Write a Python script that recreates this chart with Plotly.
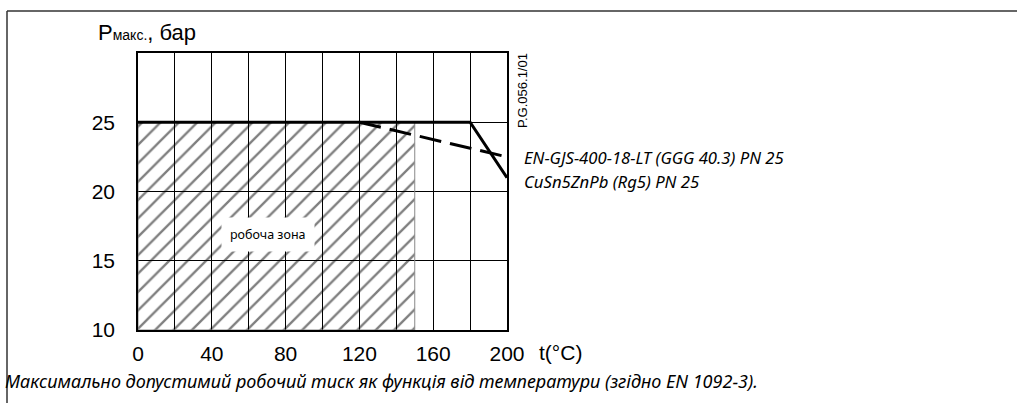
import plotly.graph_objects as go

# data
temps_solid = [0, 180, 200]
press_solid = [25, 25, 21]
temps_dash = [120, 200]
press_dash = [25, 22.5]
zone_t = [0, 150, 150, 0, 0]
zone_p = [10, 10, 25, 25, 10]
x_ticks = [0, 20, 40, 60, 80, 100, 120, 140, 160, 180, 200]
x_labels = ["0", "", "40", "", "80", "", "120", "", "160", "", "200"]
y_ticks = [10, 15, 20, 25, 30]
y_labels = ["10", "15", "20", "25", ""]

W, H = 1017, 403
L, R, T, B = 138, 507, 53, 330

def px(x):
    return (x - L) / (R - L)

def py(y):
    return (B - y) / (B - T)

ARIAL = "Liberation Sans, Arial, sans-serif"
ITAL = "Noto Sans, Open Sans, sans-serif"

fig = go.Figure()
fig.add_trace(go.Scatter(
    x=zone_t, y=zone_p, mode="lines", fill="toself",
    fillcolor="rgba(0,0,0,0)",
    fillpattern=dict(shape="/", fgcolor="black", size=13, solidity=0.18),
    line=dict(color="#888", width=1), hoverinfo="skip", showlegend=False))
fig.add_trace(go.Scatter(
    x=temps_dash, y=press_dash, mode="lines",
    line=dict(color="black", width=3, dash="22px,9px"), showlegend=False))
fig.add_trace(go.Scatter(
    x=temps_solid, y=press_solid, mode="lines",
    line=dict(color="black", width=3), showlegend=False))

fig.update_layout(
    width=W, height=H,
    margin=dict(l=L, r=W - R, t=T, b=H - B),
    paper_bgcolor="white", plot_bgcolor="white",
    xaxis=dict(range=[0, 200], tickvals=x_ticks, ticktext=x_labels,
               showgrid=True, gridcolor="black", gridwidth=1.3,
               showline=True, linecolor="black", linewidth=1.5, mirror=True,
               ticks="", ticklabelstandoff=4, zeroline=False,
               tickfont=dict(family=ARIAL, size=21, color="black")),
    yaxis=dict(range=[10, 30], tickvals=y_ticks, ticktext=y_labels,
               showgrid=True, gridcolor="black", gridwidth=1.3,
               showline=True, linecolor="black", linewidth=1.5, mirror=True,
               ticks="", ticklabelstandoff=17, zeroline=False,
               tickfont=dict(family=ARIAL, size=21, color="black")),
)

# outer frame (top and left)
fig.add_shape(type="line", xref="paper", yref="paper",
              x0=px(7), x1=px(1017), y0=py(11), y1=py(11),
              line=dict(color="#333", width=1.5))
fig.add_shape(type="line", xref="paper", yref="paper",
              x0=px(7), x1=px(7), y0=py(11), y1=py(403),
              line=dict(color="#333", width=1.5))

anns = [
    dict(x=px(96), y=py(32), xanchor="left", yanchor="middle",
         text="P<span style='font-size:14px'>макс.</span>, бар",
         font=dict(family=ARIAL, size=22, color="black")),
    dict(x=px(537), y=py(352), xanchor="left", yanchor="middle",
         text="t(°C)", font=dict(family=ARIAL, size=21, color="black")),
    dict(x=px(522), y=py(157), xanchor="left", yanchor="middle",
         text="<i>EN-GJS-400-18-LT (GGG 40.3) PN 25</i>",
         font=dict(family=ITAL, size=16.7, color="black")),
    dict(x=px(522), y=py(181), xanchor="left", yanchor="middle",
         text="<i>CuSn5ZnPb (Rg5) PN 25</i>",
         font=dict(family=ITAL, size=16.7, color="black")),
    dict(x=px(523), y=py(91), xanchor="center", yanchor="middle",
         text="P.G.056.1/01", textangle=-90,
         font=dict(family=ARIAL, size=13, color="black")),
    dict(x=px(3), y=py(381), xanchor="left", yanchor="middle",
         text="<i>Максимально допустимий робочий тиск як функція від температури (згідно EN 1092-3).</i>",
         font=dict(family=ITAL, size=18, color="black")),
    dict(x=px(268), y=py(234), xanchor="center", yanchor="middle",
         text="робоча зона", bgcolor="white", borderpad=8,
         font=dict(family=ITAL, size=12.5, color="black")),
]
for a in anns:
    a.setdefault("xref", "paper")
    a.setdefault("yref", "paper")
    a["showarrow"] = False
    fig.add_annotation(**a)

fig.write_html("out.html", config={"displayModeBar": False},
               post_script="document.body.style.margin='0';")
